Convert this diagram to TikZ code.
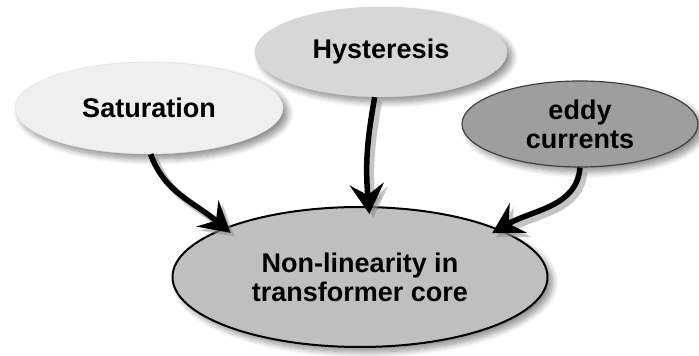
\documentclass[tikz,border=0pt]{standalone}
\usepackage{fontspec}
\setmainfont{Liberation Sans}
\usetikzlibrary{shapes,arrows,arrows.meta,shadows.blur}
\definecolor{satfill}{HTML}{EFEFEF}
\definecolor{hystfill}{HTML}{D7D7D7}
\definecolor{eddyfill}{HTML}{9E9E9E}
\definecolor{corefill}{HTML}{BFBFBF}
\tikzstyle{bubble} = [ellipse, inner sep=0pt, align=center, text=black,
    font=\fontsize{27}{29}\selectfont\bfseries,
    blur shadow={shadow xshift=5pt, shadow yshift=-5pt, shadow blur radius=6pt, shadow blur steps=10, shadow opacity=45}]
\tikzstyle{line} = [draw, line width=5.5pt, -{Stealth[length=30pt, width=34pt, inset=11pt]}, shorten >=-8pt,
    preaction={draw=black!45, opacity=0.5, line width=7pt, transform canvas={shift={(4pt,-4pt)}}}]

\begin{document}
\begin{tikzpicture}[x=1pt, y=1pt]
	\useasboundingbox (0,0) rectangle (699,356);

		\node [bubble, fill=satfill, draw=gray!25, minimum width=268pt, minimum height=92pt] (sat) at (149,248) {Saturation};
		\node [bubble, fill=hystfill, draw=gray!35, minimum width=252pt, minimum height=90pt] (hyst) at (381,304) {Hysteresis};
		\node [bubble, fill=eddyfill, draw=black!75, line width=1.2pt, minimum width=236pt, minimum height=86pt] (eddy) at (580,232) {eddy\\currents};
		\node [bubble, fill=corefill, draw=black, line width=2pt, minimum width=375pt, minimum height=140pt] (core) at (360,79) {Non-linearity in\\transformer core};

		\path [line] (sat.272) to [out=-70, in=140] (core.160);
		\path [line] (hyst.262) to [out=-100, in=95] (core.83);
		\path [line] (eddy.270) to [out=-95, in=30] (core.19);
	\end{tikzpicture}
\end{document}
